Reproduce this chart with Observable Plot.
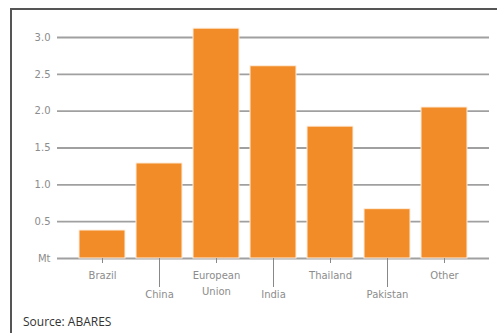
<!DOCTYPE html>
<html>
<head>
<meta charset="utf-8">
<script src="https://cdn.jsdelivr.net/npm/d3@7"></script>
<script src="https://cdn.jsdelivr.net/npm/@observablehq/plot@0.6"></script>
<style>
  html, body { margin: 0; padding: 0; background: #fff; }
  #wrap { position: relative; width: 497px; height: 333px; overflow: hidden; }
  #frame { position: absolute; left: 10px; top: 8px; right: -5px; bottom: -5px;
           border-left: 2px solid #555; border-top: 2px solid #555; pointer-events: none; }
  #chart { position: absolute; left: 0; top: 0; }
  #caption { position: absolute; left: 23px; top: 313px; font: 12px "Open Sans", sans-serif; color: #333; }
</style>
</head>
<body>
<div id="wrap">
  <div id="chart"></div>
  <div id="frame"></div>
  <div id="caption">Source: ABARES</div>
</div>
<script>
const categories = ["Brazil", "China", "European Union", "India", "Thailand", "Pakistan", "Other"];
const values = [0.38, 1.29, 3.12, 2.61, 1.79, 0.67, 2.05];
const labels = ["Brazil", "China", "European\nUnion", "India", "Thailand", "Pakistan", "Other"];
const yTicks = [0, 0.5, 1.0, 1.5, 2.0, 2.5, 3.0];
const rowOne = ["Brazil", "European Union", "Thailand", "Other"];
const rowTwo = ["China", "India", "Pakistan"];

const data = categories.map((c, i) => ({category: c, value: values[i]}));
const labelOf = c => labels[categories.indexOf(c)];

const chart = Plot.plot({
  width: 497,
  height: 310,
  marginLeft: 57,
  marginRight: 8,
  marginTop: 37,
  marginBottom: 52,
  style: {fontFamily: "'DejaVu Sans', sans-serif", fontSize: "10px", background: "transparent"},
  x: {domain: categories, paddingInner: 0.2, paddingOuter: 0.34, label: null, axis: null},
  y: {domain: [0, 3], label: null, axis: null},
  marks: [
    Plot.ruleY(yTicks, {stroke: "#a0a0a0", strokeWidth: 1.8}),
    Plot.barY(data, {x: "category", y: "value", fill: "#F28C28", stroke: "#fdeede", strokeWidth: 1}),
    Plot.axisY({ticks: yTicks, tickSize: 0, tickPadding: 7, tickFormat: d => d === 0 ? "Mt" : d.toFixed(1),
                fill: "#8c8c8c", fontSize: 10, label: null}),
    Plot.axisX({ticks: rowOne, tickSize: 5, tickPadding: 4, tickFormat: labelOf, lineHeight: 1.6,
                stroke: "#888", fill: "#8c8c8c", fontSize: 10, label: null}),
    Plot.axisX({ticks: rowTwo, tickSize: 29, tickPadding: 3, tickFormat: labelOf,
                stroke: "#888", fill: "#8c8c8c", fontSize: 10, label: null})
  ]
});
document.getElementById("chart").appendChild(chart);
</script>
</body>
</html>
